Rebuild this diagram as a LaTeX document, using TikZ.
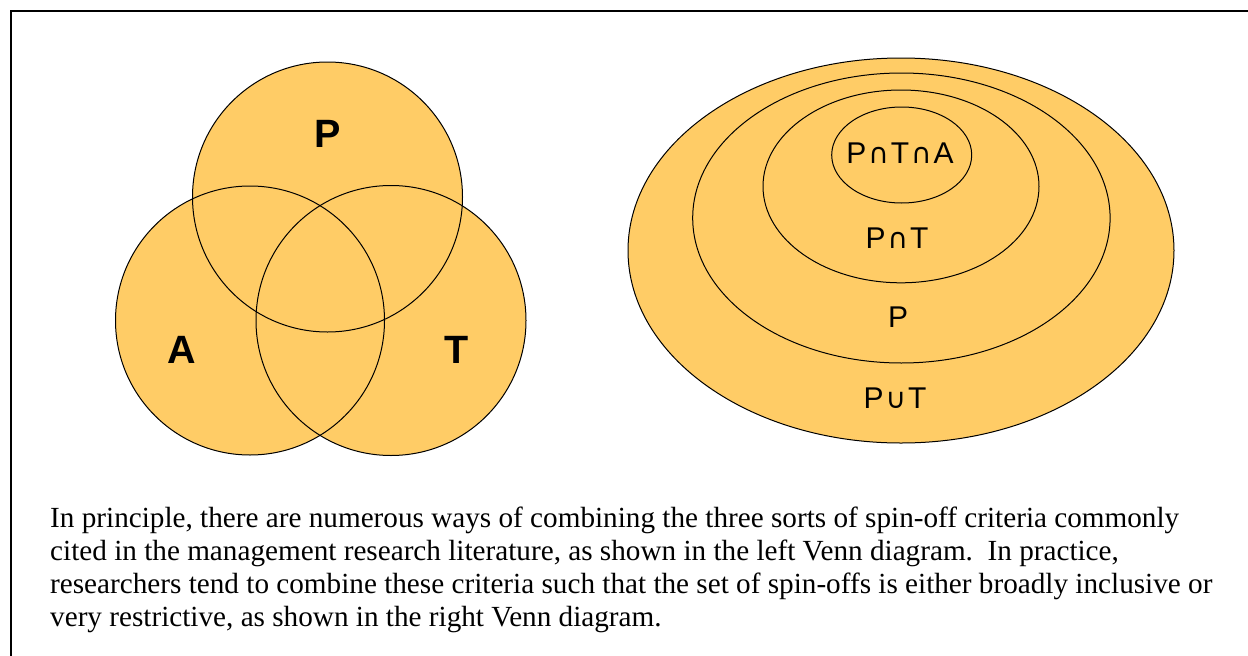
\documentclass[tikz,border=0pt]{standalone}
\usepackage{fontspec}
\setmainfont{Liberation Serif}
\newfontfamily\lsans{Liberation Sans}
\newfontfamily\dvs{DejaVu Sans}
\definecolor{vennfill}{HTML}{FFCC66}
\newcommand\capsym{{\dvs\fontsize{28}{28}\selectfont ∩}}
\newcommand\cupsym{{\dvs\fontsize{28}{28}\selectfont ∪}}
\newcommand\gsp{\hspace{2pt}}
\begin{document}
\begin{tikzpicture}[x=1pt,y=-1pt,
  setfill/.style={fill=vennfill},
  setline/.style={draw=black,line width=1pt},
  biglabel/.style={inner sep=0pt,font=\lsans\bfseries\fontsize{39.5}{40}\selectfont},
  reglabel/.style={inner sep=0pt,font=\lsans\fontsize{30}{30}\selectfont},
  bodyline/.style={inner sep=0pt,anchor=base west,font=\fontsize{29.2}{33}\selectfont}]
\useasboundingbox (0,0) rectangle (1248,656);
\fill[white] (0,0) rectangle (1248,656);
% frame
\draw[line width=1.5pt] (11,656) -- (11,11) -- (1248,11);
% left Venn diagram
\fill[setfill] (327.5,197) circle (135);
\fill[setfill] (250,320.5) circle (134.5);
\fill[setfill] (391,320.5) circle (135);
\draw[setline] (327.5,197) circle (135);
\draw[setline] (250,320.5) circle (134.5);
\draw[setline] (391,320.5) circle (135);
\node[biglabel] (lp) at (327.5,134) {P};
\node[biglabel] (la) at (181.5,350) {A};
\node[biglabel] (lt) at (456.5,350) {T};
% right nested diagram
\filldraw[setfill,setline] (901,250.5) ellipse [x radius=273,y radius=192.5];
\draw[setline] (901.4,218) ellipse [x radius=208.7,y radius=145];
\draw[setline] (901,186.4) ellipse [x radius=138,y radius=96.4];
\draw[setline] (901.7,155) ellipse [x radius=70,y radius=48];
\node[reglabel] (rpta) at (900,153) {P\gsp\capsym\gsp T\gsp\capsym\gsp A};
\node[reglabel] (rpt) at (897,238) {P\gsp\capsym\gsp T};
\node[reglabel] (rp) at (898,317) {P};
\node[reglabel] (rput) at (895,398) {P\gsp\cupsym\gsp T};
% caption
\node[bodyline] (c1) at (50,527) {In principle, there are numerous ways of combining the three sorts of spin-off criteria commonly};
\node[bodyline] (c2) at (50,560.5) {cited in the management research literature, as shown in the left Venn diagram.\ \ In practice,};
\node[bodyline] (c3) at (50,593.5) {researchers tend to combine these criteria such that the set of spin-offs is either broadly inclusive or};
\node[bodyline] (c4) at (50,626.5) {very restrictive, as shown in the right Venn diagram.};
\end{tikzpicture}
\end{document}
